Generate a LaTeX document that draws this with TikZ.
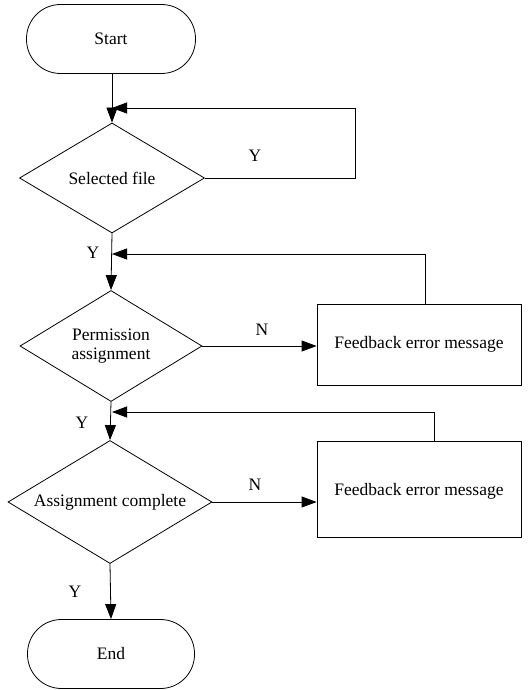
\documentclass[tikz,border=0pt]{standalone}
\usepackage{fontspec}
\setmainfont{Liberation Serif}
\usetikzlibrary{shapes.geometric,arrows.meta}
\begin{document}
\begin{tikzpicture}[x=1pt,y=-1pt,
  every node/.style={font=\fontsize{17.5}{19.5}\selectfont},
  term/.style={draw,line width=0.8pt,rectangle,rounded corners=34pt,minimum height=69pt,inner sep=0pt},
  dia/.style={draw,line width=0.8pt,diamond,inner sep=0pt},
  box/.style={draw,line width=0.8pt,rectangle,minimum width=204pt,inner sep=0pt},
  conn/.style={line width=0.8pt,-{Triangle[length=15pt,width=11pt]}},
  lbl/.style={inner sep=0pt}]
\useasboundingbox (0,0) rectangle (530,690);
\node[term,minimum width=169pt] (start) at (111,39) {Start};
\node[dia,minimum width=185pt,minimum height=110pt] (d1) at (112,178) {};
\node[lbl] (t1) at (d1) {Selected file};
\node[dia,minimum width=182pt,minimum height=111pt] (d2) at (111,346) {};
\node[lbl,align=center] (t2) at (d2) {Permission\\assignment};
\node[dia,minimum width=204pt,minimum height=123pt] (d3) at (110,502) {};
\node[lbl] (t3) at (d3) {Assignment complete};
\node[box,minimum height=81pt] (b1) at (419,344.5) {Feedback error message};
\node[box,minimum height=96pt,text depth=0pt] (b2) at (419,489) {Feedback error message};
\node[term,minimum width=167pt] (end) at (111,654) {End};
\coordinate (j1) at (112,108);
\coordinate (j2) at (112,254);
\coordinate (j3) at (112,412);
\draw[conn] (start.south -| d1.north) -- (d1.north);
\draw[conn] (d1.east) -- (355,178) -- (355,108) -- (j1);
\draw[conn] (d1.south) -- (d2.north);
\draw[conn] (d2.east) -- (d2.east -| b1.west);
\draw[conn] ([xshift=6pt]b1.north) |- (j2);
\draw[conn] (d2.south) -- (d3.north);
\draw[conn] (d3.east) -- (d3.east -| b2.west);
\draw[conn] ([xshift=15pt]b2.north) |- (j3);
\draw[conn] (d3.south) -- (end.north);
\node[lbl] (y1) at (255,156) {Y};
\node[lbl] (y2) at (93,253) {Y};
\node[lbl] (n1) at (262,330) {N};
\node[lbl] (y3) at (82,423) {Y};
\node[lbl] (n2) at (255,485) {N};
\node[lbl] (y4) at (75,592) {Y};
\end{tikzpicture}
\end{document}
